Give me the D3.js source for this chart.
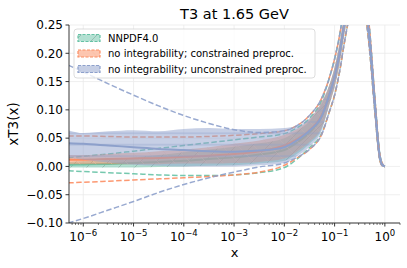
<!DOCTYPE html>
<html>
<head>
<meta charset="utf-8">
<script src="https://cdn.jsdelivr.net/npm/d3@7"></script>
<style>
body { margin: 0; background: #fff; }
text { font-family: "DejaVu Sans", sans-serif; fill: #000; }
</style>
</head>
<body>
<script>
// x grid as log10(x): small-x part (differs per fit) and large-x part (shared)
var logxSmall = [-6.3, -6, -5.5, -5, -4.5, -4, -3.5, -3, -2.5, -2, -1.75, -1.5, -1.25];
var logxLarge = [-1.1, -1, -0.9, -0.8, -0.7, -0.6, -0.5, -0.4, -0.3, -0.2, -0.1, -0.05, 0];

// large-x values, common to the three fits
var largeC    = [0.128, 0.158, 0.200, 0.255, 0.300, 0.330, 0.340, 0.300, 0.220, 0.110, 0.016, 0.003, 0.000];
var largeHi68 = [0.145, 0.175, 0.218, 0.273, 0.318, 0.346, 0.354, 0.312, 0.230, 0.117, 0.019, 0.004, 0.000];
var largeLo68 = [0.111, 0.141, 0.182, 0.237, 0.282, 0.314, 0.326, 0.288, 0.210, 0.103, 0.013, 0.002, 0.000];
var largeHi1s = [0.158, 0.190, 0.232, 0.288, 0.332, 0.360, 0.366, 0.322, 0.238, 0.122, 0.021, 0.005, 0.000];
var largeLo1s = [0.098, 0.126, 0.168, 0.222, 0.268, 0.300, 0.314, 0.278, 0.202, 0.098, 0.011, 0.001, 0.000];

// NNPDF4.0
var gC    = [0.003, 0.0035, 0.0045, 0.006, 0.008, 0.010, 0.013, 0.016, 0.021, 0.029, 0.042, 0.060, 0.090];
var gHi68 = [0.008, 0.009, 0.012, 0.016, 0.020, 0.025, 0.030, 0.035, 0.041, 0.050, 0.062, 0.080, 0.112];
var gLo68 = [-0.002, -0.002, -0.002, -0.002, -0.001, 0.000, 0.001, 0.002, 0.005, 0.010, 0.022, 0.040, 0.068];
var gHi1s = [0.015, 0.018, 0.022, 0.027, 0.032, 0.037, 0.042, 0.047, 0.052, 0.058, 0.068, 0.085, 0.118];
var gLo1s = [-0.0075, -0.009, -0.011, -0.013, -0.015, -0.016, -0.016, -0.015, -0.011, -0.002, 0.013, 0.033, 0.060];

// no integrability; constrained preproc.
var oC    = [0.012, 0.012, 0.013, 0.014, 0.015, 0.017, 0.019, 0.022, 0.027, 0.037, 0.048, 0.064, 0.092];
var oHi68 = [0.020, 0.020, 0.022, 0.024, 0.027, 0.030, 0.034, 0.040, 0.046, 0.056, 0.066, 0.083, 0.115];
var oLo68 = [0.004, 0.004, 0.004, 0.004, 0.004, 0.005, 0.005, 0.006, 0.008, 0.014, 0.026, 0.043, 0.070];
var oHi1s = [0.054, 0.054, 0.053, 0.052, 0.052, 0.052, 0.053, 0.055, 0.058, 0.063, 0.072, 0.090, 0.122];
var oLo1s = [-0.029, -0.028, -0.026, -0.024, -0.022, -0.020, -0.018, -0.015, -0.010, 0.002, 0.015, 0.030, 0.058];

// no integrability; unconstrained preproc.
var bC    = [0.041, 0.040, 0.037, 0.034, 0.031, 0.029, 0.027, 0.026, 0.028, 0.034, 0.046, 0.063, 0.090];
var bHi68 = [0.064, 0.059, 0.062, 0.064, 0.062, 0.066, 0.068, 0.066, 0.066, 0.068, 0.072, 0.085, 0.115];
var bLo68 = [0.015, 0.012, 0.007, 0.003, 0.001, 0.000, 0.000, 0.000, 0.002, 0.006, 0.018, 0.035, 0.065];
var bHi1s = [0.179, 0.167, 0.146, 0.126, 0.107, 0.090, 0.076, 0.065, 0.060, 0.063, 0.072, 0.090, 0.122];
var bLo1s = [-0.100, -0.092, -0.077, -0.062, -0.046, -0.032, -0.020, -0.010, -0.001, 0.006, 0.016, 0.030, 0.058];

var legendLabels = ["NNPDF4.0", "no integrability; constrained preproc.", "no integrability; unconstrained preproc."];
var colors = ["#66c2a5", "#fc8d62", "#8da0cb"];
var yTicks = [-0.10, -0.05, 0.00, 0.05, 0.10, 0.15, 0.20, 0.25];
var xTickExp = [-6, -5, -4, -3, -2, -1, 0];

var svgWidth = 407, svgHeight = 268;
var margin = {top: 25, right: 7, bottom: 45, left: 69};
var width = svgWidth - margin.left - margin.right;
var height = svgHeight - margin.top - margin.bottom;

var svg = d3.select("body").append("svg")
    .attr("width", svgWidth)
    .attr("height", svgHeight);

var defs = svg.append("defs");
defs.append("clipPath").attr("id", "clip")
    .append("rect").attr("width", width).attr("height", height);

// hatch patterns
function hatch(id, p, d, stroke, sw, op) {
    var pat = defs.append("pattern").attr("id", id)
        .attr("patternUnits", "userSpaceOnUse")
        .attr("width", p).attr("height", p);
    pat.append("path").attr("d", d)
        .attr("stroke", stroke).attr("stroke-width", sw)
        .attr("stroke-opacity", op).attr("fill", "none");
}
var hp = 16;
hatch("hatchG", hp, `M0,${hp} L${hp},0 M${-hp/2},${hp/2} L${hp/2},${-hp/2} M${hp/2},${hp*1.5} L${hp*1.5},${hp/2}`, "#6f8a80", 0.6, 0.7);
hatch("hatchO", hp, `M0,0 L${hp},${hp} M${-hp/2},${hp/2} L${hp/2},${hp*1.5} M${hp/2},${-hp/2} L${hp*1.5},${hp/2}`, "#f7b9a0", 0.6, 0.8);
hatch("hatchB", 11.4, "M0,5.7 L11.4,5.7", "#8da0cb", 0.8, 0.8);

var chartGroup = svg.append("g")
    .attr("transform", `translate(${margin.left}, ${margin.top})`);

var xScale = d3.scaleLog().domain([5.2e-7, 2.0]).range([0, width]);
var yScale = d3.scaleLinear().domain([-0.10, 0.25]).range([height, 0]);

// grid
chartGroup.append("g").selectAll("line").data(yTicks).enter().append("line")
    .attr("x1", 0).attr("x2", width)
    .attr("y1", d => yScale(d)).attr("y2", d => yScale(d))
    .attr("stroke", "#ebebeb").attr("stroke-width", 0.8);
chartGroup.append("g").selectAll("line").data(xTickExp).enter().append("line")
    .attr("x1", d => xScale(Math.pow(10, d))).attr("x2", d => xScale(Math.pow(10, d)))
    .attr("y1", 0).attr("y2", height)
    .attr("stroke", "#ebebeb").attr("stroke-width", 0.8);

var logx = logxSmall.concat(logxLarge);
function rows(small, large) {
    var v = small.concat(large);
    return logx.map((l, i) => ({x: Math.pow(10, l), y: v[i]}));
}
function bandRows(lo, hi, loL, hiL) {
    var a = lo.concat(loL), b = hi.concat(hiL);
    return logx.map((l, i) => ({x: Math.pow(10, l), lo: a[i], hi: b[i]}));
}

var line = d3.line().x(d => xScale(d.x)).y(d => yScale(d.y)).curve(d3.curveMonotoneX);
var area = d3.area().x(d => xScale(d.x)).y0(d => yScale(d.lo)).y1(d => yScale(d.hi)).curve(d3.curveMonotoneX);

var plot = chartGroup.append("g").attr("clip-path", "url(#clip)");

var sets = [
    {c: gC, lo: gLo68, hi: gHi68, lo1: gLo1s, hi1: gHi1s, color: colors[0], hatch: "hatchG"},
    {c: oC, lo: oLo68, hi: oHi68, lo1: oLo1s, hi1: oHi1s, color: colors[1], hatch: "hatchO"},
    {c: bC, lo: bLo68, hi: bHi68, lo1: bLo1s, hi1: bHi1s, color: colors[2], hatch: "hatchB"}
];

sets.forEach(function(s) {
    var band = bandRows(s.lo, s.hi, largeLo68, largeHi68);
    plot.append("path").datum(band).attr("d", area)
        .attr("fill", s.color).attr("fill-opacity", 0.5);
    plot.append("path").datum(band).attr("d", area)
        .attr("fill", `url(#${s.hatch})`);
    plot.append("path").datum(rows(s.c, largeC)).attr("d", line)
        .attr("fill", "none").attr("stroke", s.color).attr("stroke-width", 2);
    [rows(s.hi1, largeHi1s), rows(s.lo1, largeLo1s)].forEach(function(r) {
        plot.append("path").datum(r).attr("d", line)
            .attr("fill", "none").attr("stroke", s.color).attr("stroke-width", 1.5)
            .attr("stroke-dasharray", "5.5,2.5").attr("opacity", 0.9);
    });
});

// y axis
var yAxis = chartGroup.append("g");
yAxis.append("line").attr("x1", 0).attr("x2", 0).attr("y1", 0).attr("y2", height)
    .attr("stroke", "#222").attr("stroke-width", 0.9);
var yt = yAxis.selectAll("g.yt").data(yTicks).enter().append("g")
    .attr("transform", d => `translate(0,${yScale(d)})`);
yt.append("line").attr("x1", -3.5).attr("x2", 0).attr("stroke", "#222").attr("stroke-width", 0.9);
yt.append("text").attr("x", -6).attr("dy", "0.36em").attr("text-anchor", "end")
    .style("font-size", "12px")
    .text(d => (d < 0 ? "\u2212" : "") + Math.abs(d).toFixed(2));

// x axis
var xAxis = chartGroup.append("g").attr("transform", `translate(0,${height})`);
xAxis.append("line").attr("x1", 0).attr("x2", width)
    .attr("stroke", "#222").attr("stroke-width", 0.9);
var minor = [];
for (var e = -7; e <= 0; e++) {
    for (var m = 2; m <= 9; m++) {
        var v = m * Math.pow(10, e);
        if (v >= xScale.domain()[0] && v <= xScale.domain()[1]) minor.push(v);
    }
}
xAxis.selectAll("line.minor").data(minor).enter().append("line")
    .attr("x1", d => xScale(d)).attr("x2", d => xScale(d))
    .attr("y1", 0).attr("y2", 2).attr("stroke", "#222").attr("stroke-width", 0.6);
var xt = xAxis.selectAll("g.xt").data(xTickExp).enter().append("g")
    .attr("transform", d => `translate(${xScale(Math.pow(10, d))},0)`);
xt.append("line").attr("y1", 0).attr("y2", 3.5).attr("stroke", "#222").attr("stroke-width", 0.9);
var xl = xt.append("text").attr("y", 18).attr("text-anchor", "middle").style("font-size", "12px");
xl.append("tspan").text("10");
xl.append("tspan").attr("dy", -5).style("font-size", "8.5px")
    .text(d => (d < 0 ? "\u2212" : "") + Math.abs(d));

// labels and title
svg.append("text").attr("x", margin.left + width / 2).attr("y", 257)
    .attr("text-anchor", "middle").style("font-size", "13px").text("x");
svg.append("text").attr("transform", `translate(18,${margin.top + height / 2}) rotate(-90)`)
    .attr("text-anchor", "middle").style("font-size", "13.5px").text("xT3(x)");
svg.append("text").attr("x", margin.left + width / 2).attr("y", 19)
    .attr("text-anchor", "middle").style("font-size", "14.5px").text("T3 at 1.65 GeV");

// legend
var legend = svg.append("g");
legend.append("rect").attr("x", 74).attr("y", 29).attr("width", 241).attr("height", 49)
    .attr("rx", 3).attr("fill", "#fff").attr("fill-opacity", 0.8)
    .attr("stroke", "#d4d4d4").attr("stroke-width", 0.8);
var hatches = ["hatchG", "hatchO", "hatchB"];
var items = legend.selectAll("g.item").data(legendLabels).enter().append("g")
    .attr("transform", (d, i) => `translate(78,${38 + i * 15.5})`);
items.append("rect").attr("x", 0).attr("y", -3.5).attr("width", 22).attr("height", 7)
    .attr("fill", (d, i) => colors[i]).attr("fill-opacity", 0.5);
items.append("rect").attr("x", 0).attr("y", -3.5).attr("width", 22).attr("height", 7)
    .attr("fill", (d, i) => `url(#${hatches[i]})`)
    .attr("stroke", (d, i) => colors[i]).attr("stroke-width", 1.2)
    .attr("stroke-dasharray", "3,1.5");
items.append("text").attr("x", 30).attr("dy", "0.36em")
    .style("font-size", "10px").text(d => d);
</script>
</body>
</html>
